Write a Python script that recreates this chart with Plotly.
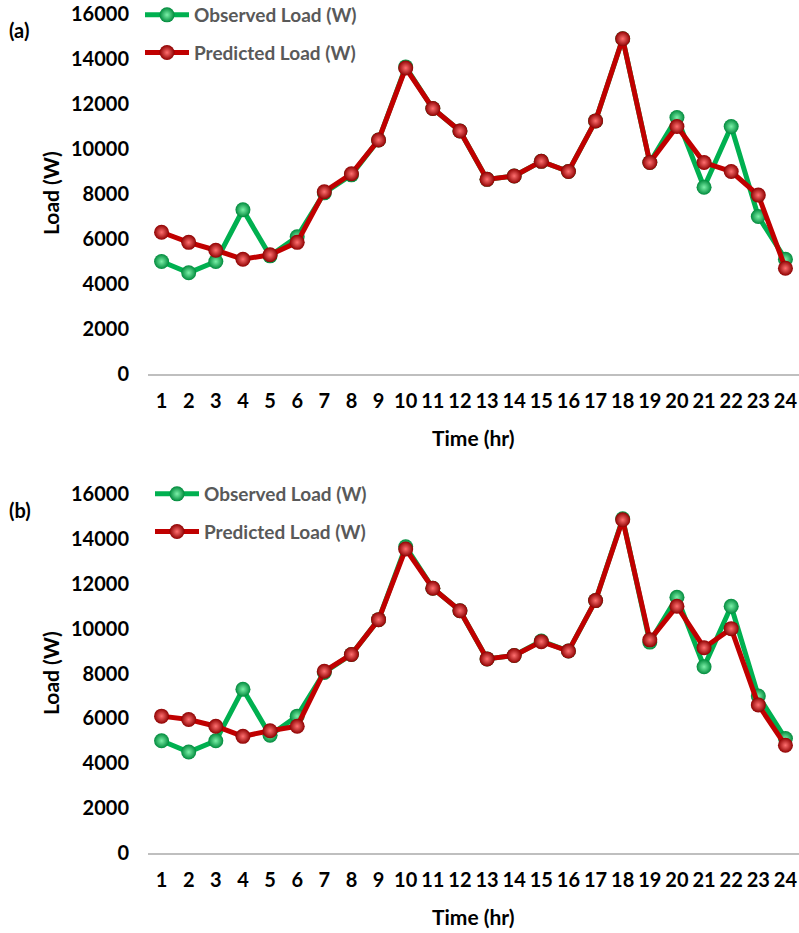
import plotly.graph_objects as go

# Hourly load profile, 24 hours
hours = list(range(1, 25))
observed_load = [5000, 4500, 5000, 7300, 5250, 6100, 8050, 8850, 10400, 13650, 11800, 10800,
                 8650, 8800, 9450, 9000, 11250, 14900, 9400, 11400, 8300, 11000, 7000, 5100]
predicted_a = [6300, 5850, 5500, 5100, 5300, 5850, 8100, 8900, 10400, 13600, 11800, 10800,
               8650, 8800, 9450, 9000, 11250, 14900, 9400, 11000, 9400, 9000, 7950, 4700]
predicted_b = [6100, 5950, 5650, 5200, 5450, 5650, 8100, 8850, 10400, 13550, 11800, 10800,
               8650, 8800, 9420, 9000, 11250, 14850, 9500, 11000, 9150, 10000, 6600, 4800]
y_ticks = [0, 2000, 4000, 6000, 8000, 10000, 12000, 14000, 16000]

W, H = 799, 933
GREEN, GREEN_DARK, GREEN_LIGHT = "#00B050", "#008A3C", "#7CF0A8"
RED, RED_DARK, RED_LIGHT = "#C00000", "#8E0000", "#FF7070"
FONT = "Lato"


def px_x(x):
    return x / W


def px_y(y):
    return 1 - y / H


fig = go.Figure()

panels = [
    ("x", "y", "legend", predicted_a),
    ("x2", "y2", "legend2", predicted_b),
]
for xa, ya, leg, pred in panels:
    fig.add_trace(go.Scatter(
        x=hours, y=observed_load, name="Observed Load (W)", mode="lines+markers",
        xaxis=xa, yaxis=ya, legend=leg, legendgroup="obs" + xa,
        line=dict(color=GREEN, width=5),
        marker=dict(size=15, color=GREEN_DARK, gradient=dict(type="radial", color=GREEN_LIGHT)),
        cliponaxis=False,
    ))
    fig.add_trace(go.Scatter(
        x=hours, y=pred, name="Predicted Load (W)", mode="lines+markers",
        xaxis=xa, yaxis=ya, legend=leg, legendgroup="pred" + xa,
        line=dict(color=RED, width=5),
        marker=dict(size=15, color=RED_DARK, gradient=dict(type="radial", color=RED_LIGHT)),
        cliponaxis=False,
    ))

tickfont = dict(family=FONT, size=20, color="black", weight="bold")
xaxis_style = dict(
    range=[0.5, 24.5], tickmode="array", tickvals=hours, ticktext=[str(h) for h in hours],
    showgrid=False, zeroline=False, showline=True, linecolor="#BFBFBF", linewidth=2,
    ticks="", tickfont=tickfont, ticklabelstandoff=8, automargin=False,
    domain=[px_x(148), 1.0],
)
yaxis_style = dict(
    range=[0, 16000], tickmode="array", tickvals=y_ticks, ticktext=[str(v) for v in y_ticks],
    showgrid=False, zeroline=False, showline=False, ticks="", automargin=False,
    tickfont=tickfont, ticklabelstandoff=18,
)

legend_style = dict(
    font=dict(family=FONT, size=19, color="#595959", weight="bold"),
    bgcolor="rgba(0,0,0,0)", borderwidth=0, traceorder="grouped",
    tracegroupgap=10, itemwidth=44, xanchor="left", yanchor="top",
)

fig.update_layout(
    width=W, height=H,
    margin=dict(l=0, r=0, t=0, b=0, autoexpand=False),
    paper_bgcolor="white", plot_bgcolor="white",
    xaxis=dict(xaxis_style, anchor="y"),
    xaxis2=dict(xaxis_style, anchor="y2"),
    yaxis=dict(yaxis_style, anchor="x", domain=[px_y(374), px_y(14)]),
    yaxis2=dict(yaxis_style, anchor="x2", domain=[px_y(853), px_y(494)]),
    legend=dict(legend_style, x=px_x(140), y=px_y(-4)),
    legend2=dict(legend_style, x=px_x(150), y=px_y(475)),
    showlegend=True,
)

label_font = dict(family=FONT, size=21, color="black", weight="bold")
for tag, ty, y_mid, x_title_y in [("(a)", 30, 193, 437), ("(b)", 510, 673, 916)]:
    fig.add_annotation(text=tag, x=px_x(7), y=px_y(ty), xref="paper", yref="paper",
                       xanchor="left", yanchor="middle", showarrow=False,
                       font=dict(family=FONT, size=20, color="black", weight="bold"))
    fig.add_annotation(text="Load (W)", x=px_x(50), y=px_y(y_mid), xref="paper", yref="paper",
                       xanchor="center", yanchor="middle", textangle=-90, showarrow=False,
                       font=label_font)
    fig.add_annotation(text="Time (hr)", x=px_x(473), y=px_y(x_title_y), xref="paper", yref="paper",
                       xanchor="center", yanchor="middle", showarrow=False,
                       font=label_font)

fig.write_html("out.html")
